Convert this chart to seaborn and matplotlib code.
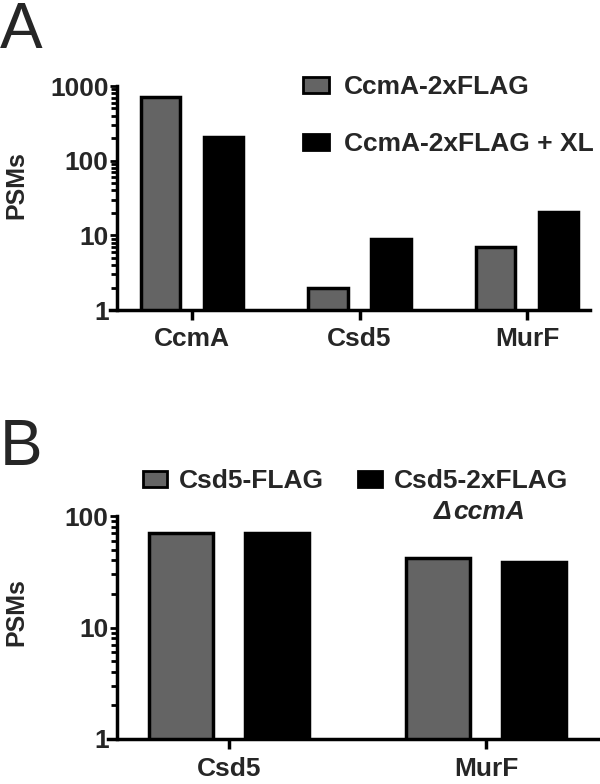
import matplotlib
matplotlib.use("Agg")
import matplotlib.pyplot as plt
import seaborn as sns
import pandas as pd
from matplotlib.ticker import LogLocator, FixedLocator, FixedFormatter, NullFormatter

sns.set_theme(style="white")
plt.rcParams['font.family'] = ['Liberation Sans', 'DejaVu Sans']
plt.rcParams['font.weight'] = 'bold'

# ---- data ----
a_proteins = ["CcmA", "Csd5", "MurF"]
a_conditions = ["CcmA-2xFLAG", "CcmA-2xFLAG + XL"]
a_flag = [710, 2.0, 6.9]
a_flag_xl = [207, 8.9, 20.7]

b_proteins = ["Csd5", "MurF"]
b_conditions = ["Csd5-FLAG", "Csd5-2xFLAG"]
b_flag = [70, 42]
b_2xflag_dccma = [71, 38.5]

gray = "#646464"
black = "#000000"

df_a = pd.DataFrame({
    "protein": a_proteins * 2,
    "psms": a_flag + a_flag_xl,
    "condition": [a_conditions[0]] * 3 + [a_conditions[1]] * 3,
})
df_b = pd.DataFrame({
    "protein": b_proteins * 2,
    "psms": b_flag + b_2xflag_dccma,
    "condition": [b_conditions[0]] * 2 + [b_conditions[1]] * 2,
})

W, H = 600, 784
fig = plt.figure(figsize=(6, 7.84), dpi=100)

def px_axes(left, right, top, bottom):
    return fig.add_axes([left / W, 1 - bottom / H, (right - left) / W, (bottom - top) / H])

axA = px_axes(110, 590, 86, 310)
axB = px_axes(108, 598, 516, 739)

FS = 19
LW = 2.5

def style(ax, ymax, xlim, yspine_x, xpad):
    ax.set_yscale('log')
    ax.set_ylim(1, ymax)
    ax.set_xlim(*xlim)
    for s in ['top', 'right']:
        ax.spines[s].set_visible(False)
    for s in ['left', 'bottom']:
        ax.spines[s].set_visible(True)
        ax.spines[s].set_linewidth(LW)
        ax.spines[s].set_color('black')
    ax.spines['left'].set_position(('data', yspine_x))
    majors = [10 ** k for k in range(0, 4) if 10 ** k <= ymax]
    ax.yaxis.set_major_locator(FixedLocator(majors))
    ax.yaxis.set_major_formatter(FixedFormatter([str(m) for m in majors]))
    ax.yaxis.set_minor_locator(LogLocator(base=10, subs=range(2, 10)))
    ax.yaxis.set_minor_formatter(NullFormatter())
    ax.tick_params(axis='y', which='major', direction='out', length=5, width=2,
                   pad=1, labelsize=FS, left=True, color='black')
    ax.tick_params(axis='y', which='minor', direction='out', length=4, width=2,
                   left=True, color='black')
    ax.tick_params(axis='x', which='major', direction='out', length=7, width=2.5,
                   pad=xpad, labelsize=FS, bottom=True, color='black')
    ax.set_xlabel("")
    ax.set_ylabel("")
    for lab in ax.get_xticklabels() + ax.get_yticklabels():
        lab.set_fontweight('bold')
    ax.grid(False)
    ax.set_facecolor('none')

sns.barplot(data=df_a, x="protein", y="psms", hue="condition",
            palette=[gray, black], edgecolor="black", linewidth=LW,
            width=0.75, gap=0.37, ax=axA, legend=True, log_scale=True)
style(axA, 1000, (-0.49, 2.376), -0.448, 5)

sns.barplot(data=df_b, x="protein", y="psms", hue="condition",
            palette=[gray, black], edgecolor="black", linewidth=LW,
            width=0.75, gap=0.34, ax=axB, legend=True, log_scale=True)
style(axB, 100, (-0.471, 1.436), -0.436, 6)

# legends
hA, lA = axA.get_legend_handles_labels()
axA.get_legend().remove()
legA = axA.legend(hA, lA, loc='upper left', bbox_to_anchor=(303 / W, 1 - 75 / H),
                  bbox_transform=fig.transFigure, frameon=False, borderpad=0,
                  borderaxespad=0, handlelength=1.0, handleheight=0.55,
                  handletextpad=0.55, labelspacing=1.25,
                  prop={'weight': 'bold', 'size': FS})
for h in legA.legend_handles:
    h.set_linewidth(2)

hB, lB = axB.get_legend_handles_labels()
axB.get_legend().remove()
legB = axB.legend(hB, lB, loc='upper left', bbox_to_anchor=(143 / W, 1 - 469 / H),
                  bbox_transform=fig.transFigure, frameon=False, borderpad=0,
                  borderaxespad=0, handlelength=0.9, handleheight=0.55,
                  handletextpad=0.45, columnspacing=1.3, ncol=2,
                  prop={'weight': 'bold', 'size': FS})
for h in legB.legend_handles:
    h.set_linewidth(2)

fig.text(452 / W, 1 - 512 / H, "Δ", ha='right', va='center', fontsize=FS,
         fontweight='bold', fontstyle='italic')
fig.text(453 / W, 1 - 512 / H, "ccmA", ha='left', va='center', fontsize=FS,
         fontweight='bold', fontstyle='italic')

# y labels
fig.text(16 / W, 1 - 185 / H, "PSMs", rotation=90, ha='center', va='center',
         fontsize=18, fontweight='bold')
fig.text(16 / W, 1 - 612 / H, "PSMs", rotation=90, ha='center', va='center',
         fontsize=18, fontweight='bold')

# panel letters
fig.text(0 / W, 1 - 1 / H, "A", ha='left', va='top', fontsize=46, fontweight='normal')
fig.text(0 / W, 1 - 418 / H, "B", ha='left', va='top', fontsize=46, fontweight='normal')

fig.savefig("out.png", dpi=100)
